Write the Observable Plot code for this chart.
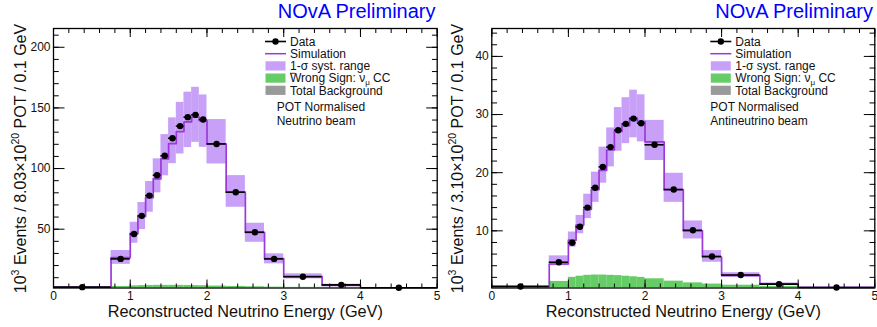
<!DOCTYPE html>
<html><head><meta charset="utf-8">
<script src="https://cdn.jsdelivr.net/npm/d3@7"></script>
<script src="https://cdn.jsdelivr.net/npm/@observablehq/plot@0.6"></script>
<style>
html,body{margin:0;padding:0;background:#fff}
body{width:877px;height:327px;position:relative;overflow:hidden;font-family:"Liberation Sans",Arial,sans-serif}
#left,#right{position:absolute;top:0}
#left{left:0}
#right{left:437px}
</style></head><body>
<div id="left"></div><div id="right"></div>
<script>
// Bin edges (GeV)
const binEdges = [0, 0.75, 1.0, 1.1, 1.2, 1.3, 1.4, 1.5, 1.6, 1.7, 1.8, 1.9, 2.0, 2.25, 2.5, 2.75, 3.0, 3.5, 4.0, 5.0];

// Neutrino beam (left), 10^3 events / 0.1 GeV
const nuData   = [2.2, 25.5, 46.0, 61.0, 77.7, 94.5, 110.5, 125.0, 135.0, 142.4, 144.3, 140.4, 120.3, 80.5, 47.5, 25.5, 10.8, 4.1, 1.7];
const nuSim    = [2.0, 26.5, 46.5, 60.5, 76.0, 91.5, 108.0, 120.5, 130.5, 138.5, 142.3, 139.5, 120.3, 80.5, 47.3, 25.7, 11.1, 3.7, 1.6];
const nuSystLo = [1.6, 21.0, 38.4, 49.7, 64.0, 80.0, 94.0, 104.0, 112.0, 117.3, 121.6, 117.5, 103.8, 68.1, 39.2, 21.4, 9.0, 3.0, 1.5];
const nuSystHi = [2.6, 32.4, 55.7, 72.0, 89.3, 108.0, 128.0, 141.8, 154.6, 163.0, 167.0, 160.7, 140.4, 94.2, 54.9, 29.7, 13.2, 4.6, 1.9];
const nuWrongSign = [2.0, 2.8, 3.3, 3.5, 3.6, 3.7, 3.7, 3.7, 3.7, 3.6, 3.5, 3.4, 3.1, 2.8, 2.5, 2.2, 2.0, 1.8, 1.6];

// Antineutrino beam (right)
const anuData   = [0.43, 4.6, 7.95, 10.7, 14.0, 17.4, 21.0, 24.4, 27.3, 28.4, 29.3, 28.5, 24.8, 17.1, 10.1, 5.6, 2.4, 0.83, 0.26];
const anuSim    = [0.40, 4.3, 8.4, 11.0, 13.7, 17.1, 20.4, 23.9, 27.1, 28.1, 29.4, 28.8, 25.3, 17.1, 10.0, 5.5, 2.35, 0.85, 0.25];
const anuSystLo = [0.30, 4.0, 7.2, 9.5, 12.1, 14.9, 18.2, 21.0, 23.7, 25.0, 26.0, 25.3, 22.1, 14.9, 8.6, 4.6, 2.0, 0.7, 0.2];
const anuSystHi = [0.60, 5.7, 9.8, 12.65, 16.3, 20.1, 24.4, 27.7, 31.2, 32.9, 34.2, 33.4, 29.0, 19.9, 11.7, 6.6, 2.8, 1.05, 0.35];
const anuWrongSign = [0.3, 1.3, 2.0, 2.2, 2.35, 2.4, 2.4, 2.35, 2.3, 2.2, 2.1, 2.0, 1.75, 1.35, 1.05, 0.85, 0.65, 0.45, 0.2];

// Ticks
const xMajor = [0, 1, 2, 3, 4, 5];
const xMinor = d3.range(0, 5.0001, 0.2);
const nuYMajor = [50, 100, 150, 200];
const nuYMinor = d3.range(10, 215, 10);
const anuYMajor = [10, 20, 30, 40];
const anuYMinor = d3.range(2, 45, 2);

const legendLabels = ["Data", "Simulation", "1-σ syst. range", "Wrong Sign", "Total Background"];

const FONT = "Liberation Sans, Arial, Helvetica, sans-serif";
const BAND = "#c8a0f8";
const SIM = "#9b38d8";
const GREEN = "#66cc66";
const GREY = "#999999";

function panel(cfg) {
  const bins = binEdges.slice(0, -1).map((x1, i) => ({
    x1, x2: binEdges[i + 1], xc: (x1 + binEdges[i + 1]) / 2,
    data: cfg.data[i], sim: cfg.sim[i], lo: cfg.lo[i], hi: cfg.hi[i], ws: cfg.ws[i]
  }));
  const simPts = bins.flatMap(b => [{x: b.x1, y: b.sim}, {x: b.x2, y: b.sim}]);
  const y0 = cfg.yDomain[0];
  const blank = () => "";
  const plot = Plot.plot({
    width: cfg.width, height: 327,
    marginLeft: cfg.marginLeft, marginRight: cfg.marginRight, marginTop: 28, marginBottom: 39.5,
    style: {background: "transparent", fontFamily: FONT, overflow: "visible"},
    x: {domain: [0, 5], axis: null},
    y: {domain: cfg.yDomain, axis: null},
    marks: [
      Plot.rectY(bins, {x1: "x1", x2: "x2", y1: "lo", y2: "hi", fill: BAND}),
      Plot.rectY(bins, {x1: "x1", x2: "x2", y1: y0, y2: "ws", fill: GREEN, clip: true}),
      Plot.line(simPts, {x: "x", y: "y", stroke: SIM, strokeWidth: 1.7, clip: true}),
      Plot.ruleY(bins, {x1: "x1", x2: "x2", y: "data", stroke: "black", strokeWidth: 1.6}),
      Plot.dot(bins, {x: "xc", y: "data", r: 3.2, fill: "black"}),
      Plot.axisX(xMinor, {anchor: "bottom", tickSize: -4, tickFormat: blank, label: null}),
      Plot.axisX(xMinor, {anchor: "top", tickSize: -4, tickFormat: blank, label: null}),
      Plot.axisX(xMajor, {anchor: "bottom", tickSize: -8, tickFormat: blank, label: null}),
      Plot.axisX(xMajor, {anchor: "top", tickSize: -8, tickFormat: blank, label: null}),
      Plot.axisX(xMajor, {anchor: "bottom", tickSize: 0, tickPadding: 3, fontSize: 12, label: null, tickFormat: d => String(d)}),
      Plot.axisY(cfg.yMinor, {anchor: "left", tickSize: -5.75, tickFormat: blank, label: null}),
      Plot.axisY(cfg.yMinor, {anchor: "right", tickSize: -5.75, tickFormat: blank, label: null}),
      Plot.axisY(cfg.yMajor, {anchor: "left", tickSize: -11.5, tickFormat: blank, label: null}),
      Plot.axisY(cfg.yMajor, {anchor: "right", tickSize: -11.5, tickFormat: blank, label: null}),
      Plot.axisY(cfg.yMajor, {anchor: "left", tickSize: 0, tickPadding: 3, fontSize: 12, label: null, tickFormat: d => String(d)}),
      Plot.frame({stroke: "black", strokeWidth: 1.3})
    ]
  });
  const svg = d3.select(plot);
  svg.selectAll("text").attr("fill", "#111");

  // Title
  svg.append("text").attr("x", cfg.titleX).attr("y", 17.5).attr("text-anchor", "end")
    .attr("font-family", FONT).attr("font-size", 20).attr("fill", "#0000ff").text("NOvA Preliminary");

  // X axis title
  const fx0 = cfg.marginLeft, fx1 = cfg.width - cfg.marginRight;
  svg.append("text").attr("x", (fx0 + fx1) / 2 + 0.5).attr("y", 316.5).attr("text-anchor", "middle")
    .attr("font-family", FONT).attr("font-size", 16.3).attr("fill", "#111")
    .text("Reconstructed Neutrino Energy (GeV)");

  // Y axis title
  const yt = svg.append("text").attr("transform", "translate(25.5,158.5) rotate(-90)")
    .attr("text-anchor", "middle").attr("font-family", FONT).attr("font-size", 16).attr("fill", "#111");
  yt.append("tspan").text("10");
  yt.append("tspan").attr("font-size", 10.5).attr("dy", -6.5).text("3");
  yt.append("tspan").attr("dy", 6.5).text(" Events / " + cfg.pot + "×10");
  yt.append("tspan").attr("font-size", 10.5).attr("dy", -6.5).text("20");
  yt.append("tspan").attr("dy", 6.5).text(" POT / 0.1 GeV");

  // Legend
  const lx0 = cfg.legendX, lx1 = cfg.legendX + 21, tx = lx1 + 4;
  const rows = [41.5, 53.7, 65.9, 78.1, 90.3];
  const g = svg.append("g").attr("font-family", FONT).attr("font-size", 12)
    .attr("fill", "#111").attr("text-anchor", "start");
  g.append("line").attr("x1", lx0).attr("x2", lx1).attr("y1", rows[0]).attr("y2", rows[0]).attr("stroke", "black").attr("stroke-width", 1.6);
  g.append("circle").attr("cx", (lx0 + lx1) / 2).attr("cy", rows[0]).attr("r", 3.2).attr("fill", "black");
  g.append("line").attr("x1", lx0).attr("x2", lx1).attr("y1", rows[1]).attr("y2", rows[1]).attr("stroke", SIM).attr("stroke-width", 1.5);
  [[BAND, 2], [GREEN, 3], [GREY, 4]].forEach(([c, i]) => {
    g.append("rect").attr("x", lx0 + 0.5).attr("y", rows[i] - 4.6).attr("width", 20).attr("height", 9.2).attr("fill", c);
  });
  rows.forEach((y, i) => {
    const t = g.append("text").attr("x", tx).attr("y", y + 4.3);
    if (i === 3) {
      t.append("tspan").text("Wrong Sign: ");
      const nu = t.append("tspan").text("ν");
      t.append("tspan").attr("font-size", 8).attr("dy", 2.5).text("μ");
      t.append("tspan").attr("dy", -2.5).text(" CC");
      if (cfg.bar) {
        // overline above ν̄μ
        const b = t.node().getBBox();
        const nuLen = nu.node().getComputedTextLength();
        const nuStart = tx + t.select("tspan").node().getComputedTextLength();
        g.append("line").attr("x1", nuStart).attr("x2", nuStart + nuLen + 5)
          .attr("y1", y - 4.8).attr("y2", y - 4.8).attr("stroke", "#111").attr("stroke-width", 0.8);
      }
    } else t.text(legendLabels[i]);
  });
  g.append("text").attr("x", cfg.potX).attr("y", 110.5).text("POT Normalised");
  g.append("text").attr("x", cfg.potX).attr("y", 124.5).text(cfg.beam);
  return plot;
}

document.getElementById("left").appendChild(panel({
  width: 440, marginLeft: 53, marginRight: 3.3, yDomain: [1.5, 215.5],
  data: nuData, sim: nuSim, lo: nuSystLo, hi: nuSystHi, ws: nuWrongSign,
  yMajor: nuYMajor, yMinor: nuYMinor, pot: "8.03", bar: true,
  beam: "Neutrino beam", legendX: 265, potX: 276.7, titleX: 435.5
}));
document.getElementById("right").appendChild(panel({
  width: 440, marginLeft: 54.3, marginRight: 2.7, yDomain: [0.17, 44.8],
  data: anuData, sim: anuSim, lo: anuSystLo, hi: anuSystHi, ws: anuWrongSign,
  yMajor: anuYMajor, yMinor: anuYMinor, pot: "3.10", bar: false,
  beam: "Antineutrino beam", legendX: 273.3, potX: 273.3, titleX: 436
}));
</script>
</body></html>
